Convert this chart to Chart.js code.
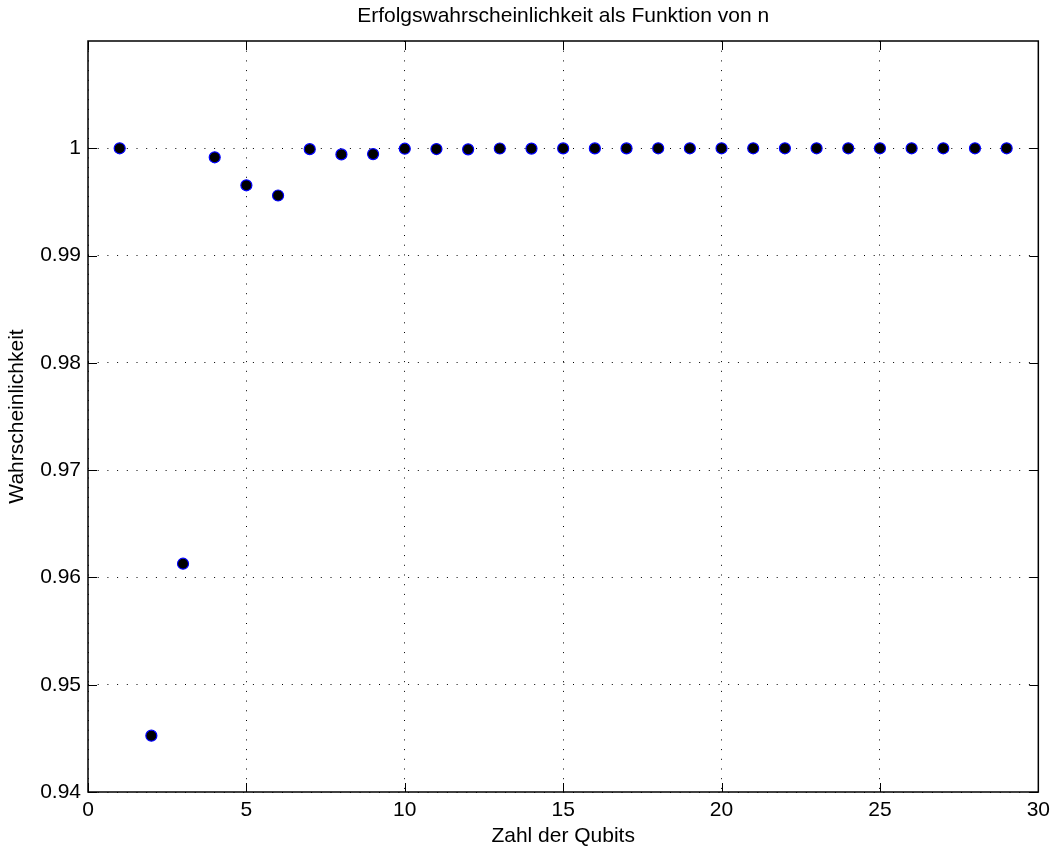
<!DOCTYPE html>
<html>
<head>
<meta charset="utf-8">
<script src="https://cdn.jsdelivr.net/npm/chart.js@4.4.0/dist/chart.umd.min.js"></script>
<style>
  html, body { margin: 0; padding: 0; background: #fff; }
  #wrap { width: 1056px; height: 850px; }
</style>
</head>
<body>
<div id="wrap"><canvas id="chart"></canvas></div>
<script>
const qubits = [1, 2, 3, 4, 5, 6, 7, 8, 9, 10, 11, 12, 13, 14, 15, 16, 17, 18, 19, 20, 21, 22, 23, 24, 25, 26, 27, 28, 29];
const probability = [1.0000, 0.94525, 0.96128, 0.99916, 0.99655, 0.99560, 0.99992, 0.99943, 0.99946, 0.99996,
  0.99993, 0.99990, 0.99998, 0.99997, 0.99999, 0.99999, 0.99999, 1.0000, 1.0000, 1.0000,
  1.0000, 1.0000, 1.0000, 1.0000, 1.0000, 1.0000, 1.0000, 1.0000, 1.0000];
const xTicks = [0, 5, 10, 15, 20, 25, 30];
const yTicks = [0.94, 0.95, 0.96, 0.97, 0.98, 0.99, 1.00];

const font = 'Liberation Sans, Arial, Helvetica, sans-serif';
const fontSize = 21;

// frame, inner tick marks and title, like the matlab look
const framePlugin = {
  id: 'frame',
  afterDatasetsDraw(chart) {
    const { ctx, chartArea: a, scales } = chart;
    ctx.save();
    ctx.strokeStyle = '#000';
    ctx.lineWidth = 1;
    ctx.setLineDash([]);
    ctx.beginPath();
    xTicks.forEach(v => {
      const px = Math.round(scales.x.getPixelForValue(v)) + 0.5;
      ctx.moveTo(px, a.bottom); ctx.lineTo(px, a.bottom - 9);
      ctx.moveTo(px, a.top); ctx.lineTo(px, a.top + 9);
    });
    yTicks.forEach(v => {
      const py = Math.round(scales.y.getPixelForValue(v)) + 0.5;
      ctx.moveTo(a.left, py); ctx.lineTo(a.left + 9, py);
      ctx.moveTo(a.right, py); ctx.lineTo(a.right - 9, py);
    });
    ctx.stroke();
    ctx.lineWidth = 1.5;
    ctx.strokeRect(a.left, a.top, a.right - a.left, a.bottom - a.top);
    ctx.fillStyle = '#000';
    ctx.font = fontSize + 'px ' + font;
    ctx.textAlign = 'center';
    ctx.textBaseline = 'middle';
    ctx.fillText('Erfolgswahrscheinlichkeit als Funktion von n', (a.left + a.right) / 2, 16);
    ctx.restore();
  }
};

new Chart(document.getElementById('chart'), {
  type: 'scatter',
  data: {
    datasets: [{
      label: 'P',
      data: qubits.map((n, i) => ({ x: n, y: probability[i] })),
      backgroundColor: '#000',
      borderColor: '#0000ff',
      borderWidth: 1.2,
      pointRadius: 5.5,
      pointHoverRadius: 5.5
    }]
  },
  options: {
    responsive: true,
    maintainAspectRatio: false,
    animation: false,
    layout: { padding: { top: 41, right: 15, left: 0, bottom: 0 } },
    plugins: {
      legend: { display: false },
      title: { display: false },
      tooltip: { enabled: false }
    },
    scales: {
      x: {
        type: 'linear',
        min: 0,
        max: 30,
        afterBuildTicks: s => { s.ticks = xTicks.map(v => ({ value: v })); },
        afterFit: s => { s.height = 58; },
        ticks: { color: '#000', font: { family: font, size: fontSize }, padding: 6, maxRotation: 0 },
        grid: { color: '#000', lineWidth: 1, drawTicks: false },
        border: { display: false, dash: [1, 8.7] },
        title: { display: true, text: 'Zahl der Qubits', color: '#000', font: { family: font, size: fontSize }, padding: { top: 0, bottom: 1 } }
      },
      y: {
        type: 'linear',
        min: 0.94,
        max: 1.01,
        afterBuildTicks: s => { s.ticks = yTicks.map(v => ({ value: v })); },
        afterFit: s => { s.width = 88; },
        ticks: {
          color: '#000',
          font: { family: font, size: fontSize },
          padding: 7,
          callback: v => String(+v.toFixed(2))
        },
        grid: { color: '#000', lineWidth: 1, drawTicks: false },
        border: { display: false, dash: [1, 8.7] },
        title: { display: true, text: 'Wahrscheinlichkeit', color: '#000', font: { family: font, size: fontSize }, padding: { top: 5, bottom: 0 } }
      }
    }
  },
  plugins: [framePlugin]
});
</script>
</body>
</html>
